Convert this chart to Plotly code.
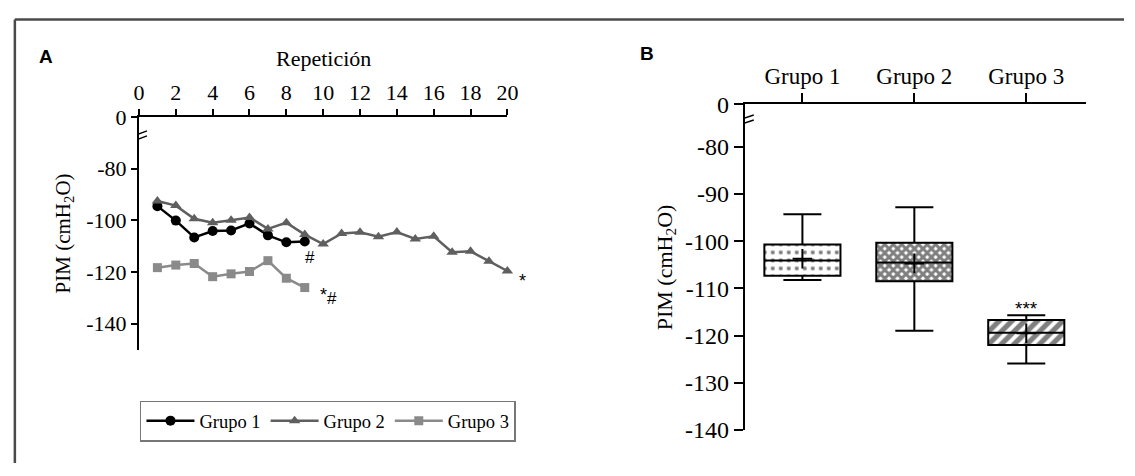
import plotly.graph_objects as go

# ---------------- data ----------------
repeticion_g1 = [1, 2, 3, 4, 5, 6, 7, 8, 9]
pim_g1 = [-94.5, -100.1, -106.6, -104.1, -103.9, -101.2, -105.8, -108.5, -108.2]

repeticion_g2 = list(range(1, 21))
pim_g2 = [-92.5, -94.3, -99.4, -100.9, -100.0, -98.9, -103.3, -100.9, -105.5, -109.2,
          -105.1, -104.6, -106.3, -104.5, -107.2, -106.2, -112.3, -112.0, -115.8, -119.6]

repeticion_g3 = [1, 2, 3, 4, 5, 6, 7, 8, 9]
pim_g3 = [-118.3, -117.3, -116.7, -121.8, -120.7, -119.8, -115.6, -122.4, -126.0]

grupos = ["Grupo 1", "Grupo 2", "Grupo 3"]
grupo_pos = [0, 1, 2]
box_upper = [-94.3, -92.8, -115.7]
box_q3 = [-100.7, -100.3, -116.7]
box_median = [-104.1, -104.5, -119.4]
box_q1 = [-107.3, -108.5, -122.0]
box_lower = [-108.2, -119.0, -125.9]
box_mean = [-103.7, -104.7, -119.5]

a_xticks = list(range(0, 21, 2))
a_yticks = [-140, -120, -100, -80, -60]
a_yticktext = ["-140", "-120", "-100", "-80", "0"]
b_yticks = [-140, -130, -120, -110, -100, -90, -80, -71]
b_yticktext = ["-140", "-130", "-120", "-110", "-100", "-90", "-80", "0"]

W, H = 1135, 476
SERIF = "Liberation Serif"
SANS = "Liberation Sans"


def fx(px):
    return px / W


def fy(py):
    return 1 - py / H


fig = go.Figure()

# ---------------- panel A ----------------
fig.add_trace(go.Scatter(x=repeticion_g1, y=pim_g1, name="Grupo 1", mode="lines+markers",
                         line=dict(color="black", width=2.5),
                         marker=dict(symbol="circle", size=10, color="black"),
                         cliponaxis=False, xaxis="x", yaxis="y"))
fig.add_trace(go.Scatter(x=repeticion_g2, y=pim_g2, name="Grupo 2", mode="lines+markers",
                         line=dict(color="#5f5f5f", width=2.5),
                         marker=dict(symbol="triangle-up", size=10, color="#5f5f5f"),
                         cliponaxis=False, xaxis="x", yaxis="y"))
fig.add_trace(go.Scatter(x=repeticion_g3, y=pim_g3, name="Grupo 3", mode="lines+markers",
                         line=dict(color="#8a8a8a", width=2.5),
                         marker=dict(symbol="square", size=9, color="#8a8a8a"),
                         cliponaxis=False, xaxis="x", yaxis="y"))

# ---------------- panel B ----------------
fig.add_trace(go.Bar(x=grupo_pos, y=[a - b for a, b in zip(box_q3, box_q1)], base=box_q1,
                     width=0.68, showlegend=False, xaxis="x2", yaxis="y2",
                     marker=dict(color="white", line=dict(width=0),
                                 pattern=dict(shape=[".", "x", "/"], fgcolor="black",
                                              bgcolor="white", size=[8, 6, 9],
                                              solidity=[0.22, 0.75, 0.58],
                                              fillmode="overlay"))))
fig.add_trace(go.Box(x=grupo_pos, q1=box_q1, median=box_median, q3=box_q3,
                     lowerfence=box_lower, upperfence=box_upper, width=0.68,
                     whiskerwidth=0.5, fillcolor="rgba(0,0,0,0)", boxpoints=False,
                     line=dict(color="black", width=2), showlegend=False,
                     xaxis="x2", yaxis="y2"))
fig.add_trace(go.Scatter(x=grupo_pos, y=box_mean, mode="markers", showlegend=False,
                         marker=dict(symbol="cross-thin", size=14,
                                     line=dict(color="black", width=2)),
                         xaxis="x2", yaxis="y2"))

axis_common = dict(showline=True, linecolor="black", linewidth=2, ticks="outside",
                   tickcolor="black", tickwidth=2, showgrid=False, zeroline=False,
                   fixedrange=True)

fig.update_layout(
    width=W, height=H, margin=dict(l=0, r=0, t=0, b=0),
    paper_bgcolor="white", plot_bgcolor="white",
    font=dict(family=SERIF, color="black"),
    boxmode="overlay", barmode="overlay",
    xaxis=dict(axis_common, domain=[fx(135), fx(509)], range=[0, 20], side="top",
               anchor="y", tickvals=a_xticks, ticklen=6,
               tickfont=dict(size=22, family=SERIF)),
    yaxis=dict(axis_common, domain=[fy(356), fy(110)], range=[-150, -60],
               anchor="x", tickvals=a_yticks, ticktext=a_yticktext, ticklen=6,
               tickfont=dict(size=22, family=SERIF)),
    xaxis2=dict(axis_common, domain=[fx(750), fx(1096)], range=[-0.515, 2.53], side="top",
                anchor="y2", tickvals=grupo_pos, ticktext=grupos, ticklen=9,
                tickfont=dict(size=23, family=SERIF)),
    yaxis2=dict(axis_common, domain=[fy(441), fy(96.7)], range=[-140, -71],
                anchor="x2", tickvals=b_yticks, ticktext=b_yticktext, ticklen=9,
                tickfont=dict(size=24, family=SERIF)),
    legend=dict(orientation="h", x=fx(136), y=fy(410), xanchor="left", yanchor="top",
                bordercolor="#777777", borderwidth=1.5, bgcolor="white",
                font=dict(size=18.5, family=SERIF), itemwidth=48,
                tracegroupgap=0),
)


def label(text, x, y, size, family=SERIF, angle=0, xref="paper", yref="paper", **kw):
    return dict(text=text, x=x, y=y, xref=xref, yref=yref, showarrow=False,
                xanchor="center", yanchor="middle", textangle=angle,
                font=dict(family=family, size=size), **kw)


ann = [
    label("<b>A</b>", fx(41), fy(46), 19, SANS),
    label("<b>B</b>", fx(651), fy(43), 19, SANS),
    label("Repetición", fx(322), fy(48), 22),
    label("PIM (cmH<sub>2</sub>O)", fx(59), fy(233), 21, angle=-90),
    label("PIM (cmH<sub>2</sub>O)", fx(670), fy(269), 22, angle=-90),
    # significance marks
    label("#", 9.3, -114.2, 17, SANS, xref="x", yref="y"),
    label("*", 10.0, -129.0, 18, SANS, xref="x", yref="y"),
    label("#", 10.5, -130.3, 17, SANS, xref="x", yref="y"),
    label("*", 20, -123.5, 18, SANS, xref="x", yref="y", xshift=15),
    label("***", 2, -114.2, 19, SANS, xref="x2", yref="y2"),
]
fig.update_layout(annotations=ann)

shapes = []
# axis break marks
for dy in (-3, 2):
    shapes.append(dict(type="line", xref="x", yref="y", xsizemode="pixel", ysizemode="pixel",
                       xanchor=0, yanchor=-67.3, x0=-8, x1=8, y0=dy - 3, y1=dy + 3,
                       line=dict(color="black", width=1.5)))
    shapes.append(dict(type="line", xref="x2", yref="y2", xsizemode="pixel", ysizemode="pixel",
                       xanchor=-0.515, yanchor=-74.3, x0=-9, x1=9, y0=dy - 3, y1=dy + 3,
                       line=dict(color="black", width=1.5)))
# outer frame (top and left edges)
shapes.append(dict(type="line", xref="paper", yref="paper", x0=fx(9), x1=1, y0=fy(7),
                   y1=fy(7), line=dict(color="#4a4a4a", width=2.5)))
shapes.append(dict(type="line", xref="paper", yref="paper", x0=fx(9), x1=fx(9), y0=0,
                   y1=fy(7), line=dict(color="#4a4a4a", width=2.5)))
fig.update_layout(shapes=shapes)

fig.write_html("out.html")
